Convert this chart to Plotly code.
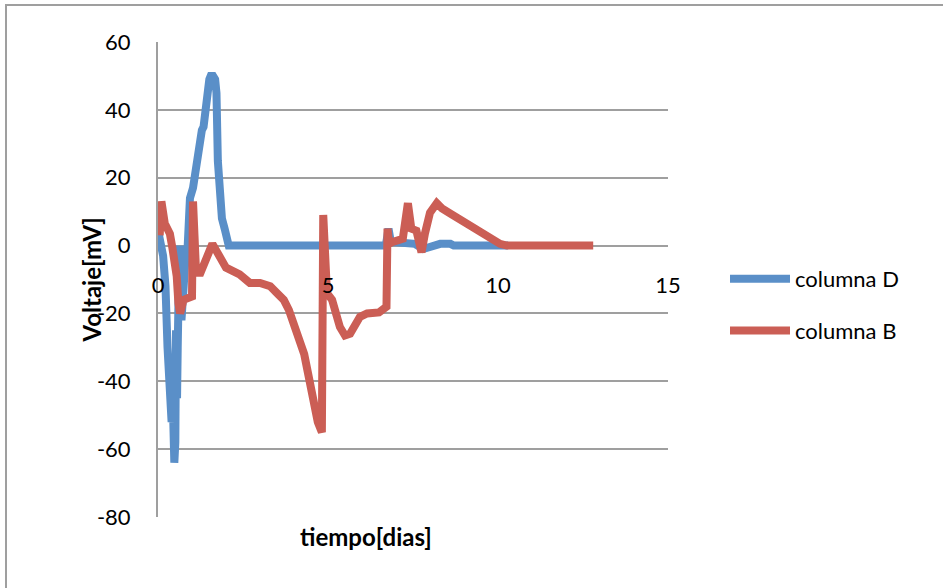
import plotly.graph_objects as go

# columna D: time (days) and voltage (mV)
t_d = [0.0, 0.05, 0.15, 0.22, 0.28, 0.33, 0.36, 0.40, 0.44, 0.48, 0.51, 0.53,
       0.56, 0.58, 0.61, 0.64, 0.66, 0.69, 0.72, 0.76, 0.80, 0.86, 0.90,
       0.94, 1.03, 1.07, 1.14, 1.18, 1.24, 1.29, 1.34, 1.38, 1.43, 1.47, 1.51,
       1.55, 1.62, 1.68, 1.72, 1.76, 1.82, 1.88, 1.96, 2.03, 2.08, 3.0, 4.0,
       5.0, 6.0, 6.7, 6.78, 6.85, 7.0, 7.3, 7.55, 7.8, 8.0, 8.3, 8.6, 8.7,
       9.5, 10.3]
v_d = [2, 2, -3, -12, -30, -46, -40, -52, -48, -64, -58, -25,
       -45, -30, -12, 0, -2, -22, -14, -8, -5, -3, 8,
       14, 17, 20, 22, 28, 29, 34, 35, 40, 42, 44, 49,
       50, 50, 49, 45, 25, 10, 8, 5, 3, 0, 0, 0,
       0, 0, 0, 5, 1, 1, 1, 0.5, -1, -0.5, 0.5, 0.5, 0,
       0, 0]

# columna B: time (days) and voltage (mV)
t_b = [0.05, 0.10, 0.20, 0.35, 0.42, 0.55, 0.60, 0.65, 0.75, 0.90, 1.0, 1.03,
       1.08, 1.12, 1.25, 1.40, 1.60, 1.80, 2.0, 2.4, 2.7, 3.0, 3.3, 3.5,
       3.7, 3.85, 4.0, 4.15, 4.3, 4.4, 4.5, 4.6, 4.7, 4.82, 4.86, 4.97,
       5.12, 5.35, 5.5, 5.65, 5.94, 6.15, 6.5, 6.72, 6.75, 6.8, 6.88, 7.2,
       7.35, 7.45, 7.6, 7.75, 7.85, 8.0, 8.2, 8.35, 8.6, 10.06, 10.26, 12.8]
v_b = [3, 13, 6.5, 3.5, -0.5, -9, -17, -20, -16, -15.5, -15, 13,
       -8, -8, -8, -4.5, 0.5, -3, -6.5, -8.5, -11, -11, -12, -14,
       -16, -19, -23, -27, -32, -37, -43, -49, -52, -55, 9, -14,
       -16, -24, -26.5, -26, -21, -20, -19.7, -18, 5, 0.5, 1, 2,
       12.5, 5, 4.4, -2, 3.5, 9.7, 12.5, 11, 9.4, 0.5, 0, 0]

y_ticks = [-80, -60, -40, -20, 0, 20, 40, 60]
y_labels = ["-80", "-60", "-40", "-20", "0", "20", "40", "60"]
x_ticks = [0, 5, 10, 15]
x_labels = ["0", "5", "10", "15"]

BLUE = "#5A8FC8"
RED = "#CB5E55"
GRID = "#9f9f9f"
FONT = "Lato"

fig = go.Figure()
fig.add_trace(go.Scatter(
    x=t_d, y=v_d, mode="lines", name="columna D",
    line=dict(color=BLUE, width=8), legendgroup="d",
))
fig.add_trace(go.Scatter(
    x=t_b, y=v_b, mode="lines", name="columna B",
    line=dict(color=RED, width=8), legendgroup="b",
))

# plot area in pixels: x 158..668, y 42..517
L, R, T, B = 158, 668, 42, 517
W, H = 943, 588
pw, ph = R - L, B - T


def px(x):
    return (x - L) / pw


def py(y):
    return (B - y) / ph


fig.update_layout(
    width=W, height=H,
    margin=dict(l=L, r=W - R, t=T, b=H - B, pad=0),
    paper_bgcolor="white", plot_bgcolor="white",
    font=dict(family=FONT, size=22, color="black"),
    showlegend=True,
    legend=dict(
        x=px(725), y=py(258), xanchor="left", yanchor="top",
        font=dict(size=22), traceorder="grouped", tracegroupgap=20,
        itemwidth=60, bgcolor="rgba(0,0,0,0)",
    ),
    xaxis=dict(
        range=[0, 15], tickvals=x_ticks, ticktext=x_labels,
        showgrid=False, zeroline=False,
        showline=False,
        anchor="free", position=(0 - (-80)) / 140,
        ticks="outside", ticklen=20, tickcolor="rgba(0,0,0,0)",
        tickfont=dict(size=22),
    ),
    yaxis=dict(
        range=[-80, 60], tickvals=y_ticks, ticktext=y_labels,
        showgrid=True, gridcolor=GRID, gridwidth=2,
        zeroline=False, showline=True, linecolor=GRID, linewidth=2,
        ticks="outside", ticklen=21, tickcolor="rgba(0,0,0,0)",
        tickfont=dict(size=22),
    ),
    annotations=[
        dict(text="<b>Voltaje[mV]</b>", xref="paper", yref="paper",
             x=px(74), y=py(280), showarrow=False, textangle=-90,
             font=dict(size=24)),
        dict(text="<b>tiempo[dias]</b>", xref="paper", yref="paper",
             x=px(366), y=py(553), showarrow=False, font=dict(size=24)),
    ],
    shapes=[
        dict(type="rect", xref="paper", yref="paper",
             x0=px(6), x1=px(W + 20), y0=py(5), y1=py(H + 20),
             line=dict(color=GRID, width=2), layer="below"),
    ],
)

fig.write_html("out.html")
